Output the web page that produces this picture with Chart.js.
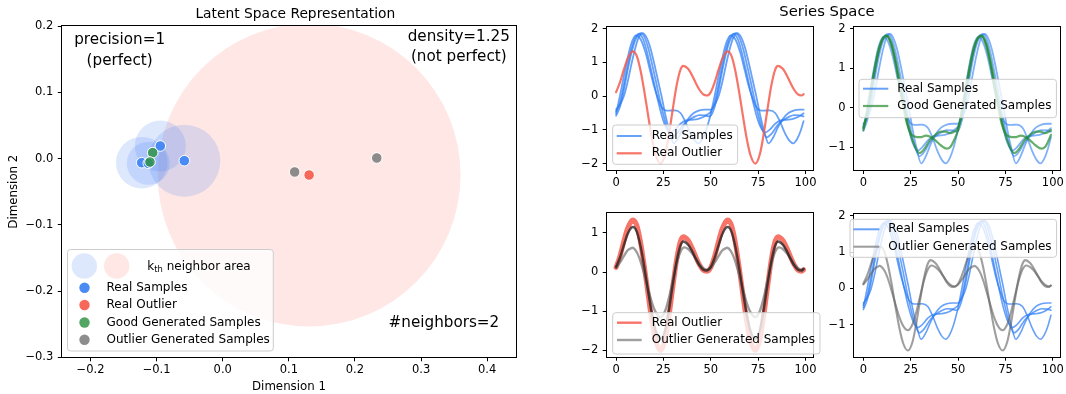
<!DOCTYPE html>
<html>
<head>
<meta charset="utf-8">
<title>Latent Space Representation / Series Space</title>
<script src="https://cdn.jsdelivr.net/npm/chart.js@4.4.1/dist/chart.umd.min.js"></script>
<style>
  html, body { margin: 0; padding: 0; background: #fff; overflow: hidden; }
  #figure { position: relative; width: 1066px; height: 394px; }
  #figure canvas { position: absolute; left: 0; top: 0; }
</style>
</head>
<body>
<div id="figure">
  <canvas id="latent" width="1066" height="394"></canvas>
  <canvas id="realVsOutlier" width="1066" height="394"></canvas>
  <canvas id="realVsGood" width="1066" height="394"></canvas>
  <canvas id="outlierVsGenerated" width="1066" height="394"></canvas>
  <canvas id="realVsOutlierGenerated" width="1066" height="394"></canvas>
</div>
<script>
// ---------------- metrics shown as annotations ----------------
const precisionValue = 1;
const densityValue = 1.25;
const kNeighbors = 2;

// ---------------- latent space points ----------------
const realSamplesX = [-0.0944, -0.0581, -0.1225, -0.1126];
const realSamplesY = [0.0189, -0.0033, -0.0063, -0.0072];
const realNeighborRadius = [0.0386, 0.0545, 0.039, 0.0325];
const realOutlierX = [0.1307];
const realOutlierY = [-0.0249];
const realOutlierNeighborRadius = [0.229];
const goodGeneratedX = [-0.1059, -0.1100];
const goodGeneratedY = [0.0088, -0.0053];
const outlierGeneratedX = [0.1088, 0.2330];
const outlierGeneratedY = [-0.0203, 0.0008];

const latentXTicks = [-0.2, -0.1, 0.0, 0.1, 0.2, 0.3, 0.4];
const latentYTicks = [-0.3, -0.2, -0.1, 0.0, 0.1, 0.2];
const latentLegendLabels = ['Real Samples', 'Real Outlier', 'Good Generated Samples', 'Outlier Generated Samples'];

// ---------------- series space ----------------
const seriesXTicks = [0, 25, 50, 75, 100];
const seriesYTicksTopLeft = [-2, -1, 0, 1, 2];
const seriesYTicksTopRight = [-1, 0, 1, 2];
const seriesYTicksBottomLeft = [-2, -1, 0, 1];
const seriesYTicksBottomRight = [-1, 0, 1, 2];

// real samples, [time step, value]
const realSample1 = [[0,-0.52],[2,0.0],[4,0.57],[6,1.1],[8,1.55],[10.5,1.8],[13,1.68],[15.5,1.3],[18,0.75],[20,0.3],[22,-0.05],[24,-0.32],[26,-0.42],[28,-0.43],[31,-0.42],[34,-0.5],[36.5,-0.75],[39,-1.08],[41.5,-1.32],[43.5,-1.4],[45.5,-1.28],[47.5,-1.02],[49,-0.74],
  [50,-0.52],[52,0.0],[54,0.57],[56,1.1],[58,1.55],[60.5,1.8],[63,1.68],[65.5,1.3],[68,0.75],[70,0.3],[72,-0.05],[74,-0.32],[76,-0.42],[78,-0.43],[81,-0.42],[84,-0.5],[86.5,-0.75],[89,-1.08],[91.5,-1.32],[93.5,-1.4],[95.5,-1.28],[97.5,-1.02],[99,-0.74]];
const realSample2 = [[0,-0.46],[2,-0.2],[4,0.3],[6,0.88],[8,1.38],[10,1.73],[12,1.85],[14,1.72],[16,1.38],[18,0.9],[20,0.4],[22,-0.1],[24,-0.55],[26,-0.88],[28.5,-1.08],[31,-1.0],[34,-0.82],[37,-0.72],[40,-0.7],[43,-0.68],[46,-0.62],[48,-0.55],
  [50,-0.46],[52,-0.2],[54,0.3],[56,0.88],[58,1.38],[60,1.73],[62,1.85],[64,1.72],[66,1.38],[68,0.9],[70,0.4],[72,-0.1],[74,-0.55],[76,-0.88],[78.5,-1.08],[81,-1.0],[84,-0.82],[87,-0.72],[90,-0.7],[93,-0.68],[96,-0.62],[98,-0.55],[99,-0.51]];
const realSample3 = [[0,-0.58],[2,-0.32],[4,0.16],[6,0.74],[8,1.26],[10,1.64],[13,1.87],[15,1.75],[17,1.42],[19,0.95],[21,0.45],[23,-0.08],[25,-0.55],[27,-0.95],[29.5,-1.22],[32,-1.12],[35,-0.88],[38,-0.72],[41,-0.62],[44,-0.56],[47,-0.57],[49,-0.6],
  [50,-0.58],[52,-0.32],[54,0.16],[56,0.74],[58,1.26],[60,1.64],[63,1.87],[65,1.75],[67,1.42],[69,0.95],[71,0.45],[73,-0.08],[75,-0.55],[77,-0.95],[79.5,-1.22],[82,-1.12],[85,-0.88],[88,-0.72],[91,-0.62],[94,-0.56],[97,-0.57],[99,-0.6]];
const realSample4 = [[0,-0.4],[2,-0.26],[4,-0.02],[6,0.4],[8,0.92],[10,1.4],[12,1.75],[14,1.87],[16,1.75],[18,1.45],[20,1.0],[22,0.5],[24,0.0],[26,-0.55],[28,-1.0],[30.5,-1.4],[33,-1.22],[35.5,-0.92],[38,-0.68],[41,-0.5],[44,-0.42],[47,-0.4],[49,-0.4],
  [50,-0.4],[52,-0.26],[54,-0.02],[56,0.4],[58,0.92],[60,1.4],[62,1.75],[64,1.87],[66,1.75],[68,1.45],[70,1.0],[72,0.5],[74,0.0],[76,-0.55],[78,-1.0],[80.5,-1.4],[83,-1.22],[85.5,-0.92],[88,-0.68],[91,-0.5],[94,-0.42],[97,-0.4],[99,-0.4]];

// real outlier
const realOutlierSeries = [[0,0.12],[2,0.4],[4,0.77],[6,1.1],[8,1.3],[9,1.33],[11,1.18],[13,0.74],[15,0.11],[17,-0.6],[19,-1.27],[21,-1.76],[23.5,-2.0],[26,-1.7],[28,-1.1],[30,-0.36],[32,0.33],[34,0.79],[35.5,0.9],[38,0.81],[40,0.63],[42,0.4],[44,0.19],[46,0.05],[48,0.02],
  [50,0.12],[52,0.4],[54,0.77],[56,1.1],[58,1.3],[59,1.33],[61,1.18],[63,0.74],[65,0.11],[67,-0.6],[69,-1.27],[71,-1.76],[73.5,-2.0],[76,-1.7],[78,-1.1],[80,-0.36],[82,0.33],[84,0.79],[85.5,0.9],[88,0.81],[90,0.63],[92,0.4],[94,0.19],[96,0.05],[98,0.02],[99,0.06]];

// good generated samples
const goodGenerated1 = [[0,-0.5],[2,-0.15],[4,0.4],[6,0.95],[8,1.42],[10,1.72],[12.5,1.83],[15,1.62],[17,1.22],[19,0.72],[21,0.2],[23,-0.3],[25,-0.68],[27,-0.95],[29.5,-1.14],[32,-1.05],[35,-0.82],[38,-0.68],[41,-0.6],[43.5,-0.6],[46,-0.64],[48,-0.6],
  [50,-0.5],[52,-0.15],[54,0.4],[56,0.95],[58,1.42],[60,1.72],[62.5,1.83],[65,1.62],[67,1.22],[69,0.72],[71,0.2],[73,-0.3],[75,-0.68],[77,-0.95],[79.5,-1.14],[82,-1.05],[85,-0.82],[88,-0.68],[91,-0.6],[93.5,-0.6],[96,-0.64],[98,-0.6],[99,-0.56]];
const goodGenerated2 = [[0,-0.56],[2,-0.1],[4,0.47],[6,1.02],[8,1.47],[10,1.74],[12,1.82],[14.5,1.62],[17,1.12],[19,0.58],[21,0.05],[23,-0.4],[25,-0.65],[27,-0.72],[30,-0.74],[33,-0.7],[35,-0.72],[38,-0.82],[41,-0.95],[44,-1.03],[46,-0.98],[48,-0.8],
  [50,-0.56],[52,-0.1],[54,0.47],[56,1.02],[58,1.47],[60,1.74],[62,1.82],[64.5,1.62],[67,1.12],[69,0.58],[71,0.05],[73,-0.4],[75,-0.65],[77,-0.72],[80,-0.74],[83,-0.7],[85,-0.72],[88,-0.82],[91,-0.95],[94,-1.03],[96,-0.98],[98,-0.8],[99,-0.68]];

// outlier generated samples
const outlierGenerated1 = [[0,0.13],[2,0.36],[4,0.67],[6,0.96],[8,1.13],[9,1.15],[11,1.02],[13,0.64],[15,0.1],[17,-0.52],[19,-1.09],[21,-1.51],[23.5,-1.71],[26,-1.46],[28,-0.94],[30,-0.3],[32,0.29],[34,0.68],[35.5,0.78],[38,0.7],[40,0.55],[42,0.35],[44,0.17],[46,0.06],[48,0.04],
  [50,0.13],[52,0.36],[54,0.67],[56,0.96],[58,1.13],[59,1.15],[61,1.02],[63,0.64],[65,0.1],[67,-0.52],[69,-1.09],[71,-1.51],[73.5,-1.71],[76,-1.46],[78,-0.94],[80,-0.3],[82,0.29],[84,0.68],[85.5,0.78],[88,0.7],[90,0.55],[92,0.35],[94,0.17],[96,0.06],[98,0.04],[99,0.08]];
const outlierGenerated2 = [[0,0.11],[2,0.24],[4,0.4],[6,0.55],[8,0.61],[8.5,0.62],[11,0.5],[13,0.26],[15,-0.08],[17,-0.45],[19,-0.79],[21,-1.03],[23.5,-1.15],[26,-0.98],[28,-0.64],[30,-0.2],[32,0.22],[34,0.52],[36,0.63],[38,0.59],[40,0.49],[42,0.35],[44,0.2],[46,0.1],[48,0.06],
  [50,0.11],[52,0.24],[54,0.4],[56,0.55],[58,0.61],[58.5,0.62],[61,0.5],[63,0.26],[65,-0.08],[67,-0.45],[69,-0.79],[71,-1.03],[73.5,-1.15],[76,-0.98],[78,-0.64],[80,-0.2],[82,0.22],[84,0.52],[86,0.63],[88,0.59],[90,0.49],[92,0.35],[94,0.2],[96,0.1],[98,0.06],[99,0.08]];

// ---------------- shared styling ----------------
const W = 1066, H = 394, AXIS_W = 60, AXIS_H = 30;
const FONT = '"DejaVu Sans", "Liberation Sans", sans-serif';
const TICK_SIZE = 11.5, LEGEND_SIZE = 12;
Chart.defaults.font.family = FONT;
Chart.defaults.color = '#000';

const COLORS = {
  realPoint: 'rgb(74,138,245)',
  outlierPoint: 'rgb(247,104,91)',
  goodPoint: 'rgba(45,145,65,0.82)',
  outlierGenPoint: 'rgba(125,125,125,0.88)',
  realArea: 'rgba(70,130,245,0.18)',
  outlierArea: 'rgba(250,110,95,0.17)',
  realLine: 'rgba(45,125,245,0.72)',
  realLineLight: 'rgba(45,125,245,0.6)',
  outlierLine: 'rgba(245,92,78,0.85)',
  goodLine: 'rgba(35,140,45,0.7)',
  outlierGenDark: 'rgba(30,30,30,0.75)',
  outlierGenLight: 'rgba(105,105,105,0.65)',
  outlierGenLine: 'rgba(100,100,100,0.62)'
};

function fmtTick(v, digits) {
  const a = Math.abs(v) < 1e-9 ? 0 : v;
  return (a < 0 ? '\u2212' : '') + Math.abs(a).toFixed(digits);
}

function pairsToPoints(pairs) { return pairs.map(p => ({ x: p[0], y: p[1] })); }
function xyToPoints(xs, ys) { return xs.map((x, i) => ({ x, y: ys[i] })); }

function roundBox(c, x, y, w, h, r) {
  c.beginPath();
  c.moveTo(x + r, y);
  c.lineTo(x + w - r, y); c.quadraticCurveTo(x + w, y, x + w, y + r);
  c.lineTo(x + w, y + h - r); c.quadraticCurveTo(x + w, y + h, x + w - r, y + h);
  c.lineTo(x + r, y + h); c.quadraticCurveTo(x, y + h, x, y + h - r);
  c.lineTo(x, y + r); c.quadraticCurveTo(x, y, x + r, y);
  c.closePath();
}

function drawFrame(c, a) {
  c.save();
  c.strokeStyle = '#000';
  c.lineWidth = 1;
  const l = Math.round(a.left) - 0.5, t = Math.round(a.top) - 0.5;
  const r = Math.round(a.right) + 0.5, b = Math.round(a.bottom) + 0.5;
  c.strokeRect(l, t, r - l, b - t);
  c.restore();
}

function scaleConfig(min, max, ticks, digits, horizontal) {
  return {
    type: 'linear', min, max,
    afterBuildTicks: s => { s.ticks = ticks.map(v => ({ value: v })); },
    afterFit: s => { if (horizontal) s.height = AXIS_H; else s.width = AXIS_W; },
    ticks: {
      autoSkip: false, maxRotation: 0, color: '#000',
      font: { family: FONT, size: TICK_SIZE },
      padding: horizontal ? 2 : 4.5,
      callback: v => fmtTick(v, digits)
    },
    grid: { display: true, drawOnChartArea: false, drawTicks: true, tickLength: 4, color: '#000', lineWidth: 1 },
    border: { display: false }
  };
}

function paddingFor(area) {
  return { left: area.l - AXIS_W, top: area.t, right: W - area.r, bottom: H - area.b - AXIS_H };
}

// ---------------- latent space chart ----------------
function radiusInPixels(chart, r) {
  const xs = chart.scales.x;
  return Math.abs(xs.getPixelForValue(r) - xs.getPixelForValue(0));
}

const latentArea = { l: 61.8, r: 516.2, t: 26, b: 357.3 };

const latentOverlay = {
  id: 'latentOverlay',
  afterDatasetsDraw(chart) { drawFrame(chart.ctx, chart.chartArea); },
  afterDraw(chart) {
    const c = chart.ctx, a = chart.chartArea;
    c.save();
    c.fillStyle = '#000';
    c.textAlign = 'center';
    c.textBaseline = 'middle';
    c.font = `13.8px ${FONT}`;
    c.fillText('Latent Space Representation', 295.3, 14.3);
    c.font = `11.8px ${FONT}`;
    c.fillText('Dimension 1', (a.left + a.right) / 2, 386.7);
    c.save();
    c.translate(13.5, (a.top + a.bottom) / 2);
    c.rotate(-Math.PI / 2);
    c.fillText('Dimension 2', 0, 0);
    c.restore();

    c.font = `15.2px ${FONT}`;
    c.fillText(`precision=${precisionValue}`, 119.6, 40);
    c.fillText('(perfect)', 119.6, 60.7);
    c.fillText(`density=${densityValue}`, 458.8, 36.7);
    c.fillText('(not perfect)', 458.8, 56.7);
    c.fillText(`#neighbors=${kNeighbors}`, 443.9, 322.7);

    // legend
    roundBox(c, 67.5, 249.5, 205.8, 101.5, 3);
    c.fillStyle = 'rgba(255,255,255,0.8)';
    c.fill();
    c.strokeStyle = '#cccccc';
    c.lineWidth = 1;
    c.stroke();

    c.beginPath(); c.arc(84.3, 266, 12.7, 0, Math.PI * 2);
    c.fillStyle = COLORS.realArea; c.fill();
    c.beginPath(); c.arc(116.7, 266, 12.7, 0, Math.PI * 2);
    c.fillStyle = COLORS.outlierArea; c.fill();

    c.fillStyle = '#000';
    c.textAlign = 'left';
    c.font = `${LEGEND_SIZE}px ${FONT}`;
    let tx = 147.3;
    c.fillText('k', tx, 266.5);
    tx += c.measureText('k').width;
    c.font = `8.4px ${FONT}`;
    c.fillText('th', tx, 270);
    tx += c.measureText('th').width;
    c.font = `${LEGEND_SIZE}px ${FONT}`;
    c.fillText(' neighbor area', tx, 266.5);

    const rowY = [287.8, 305, 322.5, 339.8];
    const rowColors = [COLORS.realPoint, COLORS.outlierPoint, COLORS.goodPoint, COLORS.outlierGenPoint];
    latentLegendLabels.forEach((label, i) => {
      c.beginPath(); c.arc(84.5, rowY[i], 5.2, 0, Math.PI * 2);
      c.fillStyle = rowColors[i]; c.fill();
      c.fillStyle = '#000';
      c.fillText(label, 106.5, rowY[i]);
    });
    c.restore();
  }
};

new Chart(document.getElementById('latent'), {
  type: 'scatter',
  data: {
    datasets: [
      { label: 'Outlier Generated Samples', data: xyToPoints(outlierGeneratedX, outlierGeneratedY), order: 1,
        pointRadius: 5.3, pointBackgroundColor: COLORS.outlierGenPoint, pointBorderColor: '#fff', pointBorderWidth: 1, clip: 0 },
      { label: 'Good Generated Samples', data: xyToPoints(goodGeneratedX, goodGeneratedY), order: 2,
        pointRadius: 5.3, pointBackgroundColor: COLORS.goodPoint, pointBorderColor: '#fff', pointBorderWidth: 1, clip: 0 },
      { label: 'Real Outlier', data: xyToPoints(realOutlierX, realOutlierY), order: 3,
        pointRadius: 5.3, pointBackgroundColor: COLORS.outlierPoint, pointBorderColor: '#fff', pointBorderWidth: 1, clip: 0 },
      { label: 'Real Samples', data: xyToPoints(realSamplesX, realSamplesY), order: 4,
        pointRadius: 5.3, pointBackgroundColor: COLORS.realPoint, pointBorderColor: '#fff', pointBorderWidth: 1, clip: 0 },
      { label: 'real kth neighbor area', data: xyToPoints(realSamplesX, realSamplesY), order: 5,
        pointRadius: ctx => ctx.dataIndex === undefined ? 0 : radiusInPixels(ctx.chart, realNeighborRadius[ctx.dataIndex]),
        pointBackgroundColor: COLORS.realArea, pointBorderWidth: 0, clip: 0 },
      { label: 'outlier kth neighbor area', data: xyToPoints(realOutlierX, realOutlierY), order: 6,
        pointRadius: ctx => ctx.dataIndex === undefined ? 0 : radiusInPixels(ctx.chart, realOutlierNeighborRadius[ctx.dataIndex]),
        pointBackgroundColor: COLORS.outlierArea, pointBorderWidth: 0, clip: 0 }
    ]
  },
  options: {
    responsive: false, animation: false, events: [], devicePixelRatio: 1,
    layout: { padding: paddingFor(latentArea) },
    plugins: { legend: { display: false }, tooltip: { enabled: false } },
    scales: {
      x: scaleConfig(-0.2434, 0.4439, latentXTicks, 1, true),
      y: scaleConfig(-0.3, 0.2, latentYTicks, 1, false)
    }
  },
  plugins: [latentOverlay]
});

// ---------------- series space charts ----------------
function drawLineLegend(c, spec) {
  c.save();
  c.font = `${LEGEND_SIZE}px ${FONT}`;
  const w = Math.max(...spec.items.map(it => c.measureText(it.label).width));
  const right = spec.textX + w + 5;
  roundBox(c, spec.left, spec.top, right - spec.left, spec.bottom - spec.top, 3);
  c.fillStyle = 'rgba(255,255,255,0.8)';
  c.fill();
  c.strokeStyle = '#cccccc';
  c.lineWidth = 1;
  c.stroke();
  spec.items.forEach((it, i) => {
    const y = spec.rows[i];
    c.strokeStyle = it.color;
    c.lineWidth = it.width;
    c.beginPath(); c.moveTo(spec.h0, y); c.lineTo(spec.h1, y); c.stroke();
    c.fillStyle = '#000';
    c.textAlign = 'left';
    c.textBaseline = 'middle';
    c.fillText(it.label, spec.textX, y);
  });
  c.restore();
}

function lineSet(label, pairs, color, width) {
  return { label, data: pairsToPoints(pairs), borderColor: color, borderWidth: width,
           pointRadius: 0, fill: false, clip: 0, cubicInterpolationMode: 'monotone',
           borderCapStyle: 'round', borderJoinStyle: 'round' };
}

function seriesChart(id, area, yMin, yMax, yTicks, sets, legend, extraDraw) {
  // later entries are drawn on top
  sets.forEach((s, i) => { s.order = sets.length - i; });
  new Chart(document.getElementById(id), {
    type: 'line',
    data: { datasets: sets },
    options: {
      responsive: false, animation: false, events: [], devicePixelRatio: 1,
      layout: { padding: paddingFor(area) },
      plugins: { legend: { display: false }, tooltip: { enabled: false } },
      scales: {
        x: scaleConfig(-4.95, 103.95, seriesXTicks, 0, true),
        y: scaleConfig(yMin, yMax, yTicks, 0, false)
      }
    },
    plugins: [{
      id: id + 'Overlay',
      afterDatasetsDraw(chart) { drawFrame(chart.ctx, chart.chartArea); },
      afterDraw(chart) {
        drawLineLegend(chart.ctx, legend);
        if (extraDraw) extraDraw(chart.ctx);
      }
    }]
  });
}

const realLabel = 'Real Samples', outlierLabel = 'Real Outlier';
const goodLabel = 'Good Generated Samples', outlierGenLabel = 'Outlier Generated Samples';
const realSamples = [realSample1, realSample2, realSample3, realSample4];

// top left: real samples vs the real outlier
seriesChart('realVsOutlier', { l: 606.7, r: 813, t: 26.7, b: 170 }, -2.19, 2.06, seriesYTicksTopLeft,
  [...realSamples.map(s => lineSet(realLabel, s, COLORS.realLine, 1.8)),
   lineSet(outlierLabel, realOutlierSeries, COLORS.outlierLine, 2.2)],
  { left: 612.7, top: 125, bottom: 164.3, rows: [136, 153.3], h0: 616.7, h1: 641.7, textX: 651.7,
    items: [{ label: realLabel, color: COLORS.realLine, width: 2 }, { label: outlierLabel, color: COLORS.outlierLine, width: 2.2 }] },
  c => {
    c.save();
    c.fillStyle = '#000';
    c.textAlign = 'center';
    c.textBaseline = 'middle';
    c.font = `14.8px ${FONT}`;
    c.fillText('Series Space', 827, 11.7);
    c.restore();
  });

// top right: real samples vs good generated samples
seriesChart('realVsGood', { l: 854, r: 1060.5, t: 27.3, b: 170 }, -1.57, 2.04, seriesYTicksTopRight,
  [...realSamples.map(s => lineSet(realLabel, s, COLORS.realLineLight, 1.8)),
   lineSet(goodLabel, goodGenerated1, COLORS.goodLine, 2.2),
   lineSet(goodLabel, goodGenerated2, COLORS.goodLine, 2.2)],
  { left: 859, top: 79.3, bottom: 117.7, rows: [88.7, 106], h0: 863, h1: 888.3, textX: 897.3,
    items: [{ label: realLabel, color: COLORS.realLine, width: 2 }, { label: goodLabel, color: COLORS.goodLine, width: 2.2 }] });

// bottom left: real outlier vs outlier generated samples
seriesChart('outlierVsGenerated', { l: 606.7, r: 813, t: 213.3, b: 356.7 }, -2.16, 1.50, seriesYTicksBottomLeft,
  [lineSet(outlierLabel, realOutlierSeries, COLORS.outlierLine, 5),
   lineSet(outlierGenLabel, outlierGenerated2, COLORS.outlierGenLight, 2.4),
   lineSet(outlierGenLabel, outlierGenerated1, COLORS.outlierGenDark, 2.4)],
  { left: 612.7, top: 312.7, bottom: 354, rows: [322.7, 340], h0: 617, h1: 641.7, textX: 651.7,
    items: [{ label: outlierLabel, color: COLORS.outlierLine, width: 2.4 }, { label: outlierGenLabel, color: COLORS.outlierGenLine, width: 2.4 }] });

// bottom right: real samples vs outlier generated samples
seriesChart('realVsOutlierGenerated', { l: 854, r: 1060.5, t: 214, b: 356.7 }, -1.88, 2.05, seriesYTicksBottomRight,
  [...realSamples.map(s => lineSet(realLabel, s, COLORS.realLine, 1.6)),
   lineSet(outlierGenLabel, outlierGenerated1, COLORS.outlierGenLine, 2.1),
   lineSet(outlierGenLabel, outlierGenerated2, COLORS.outlierGenLine, 2.1)],
  { left: 850, top: 219.3, bottom: 257.3, rows: [229.3, 246.7], h0: 853.5, h1: 879.3, textX: 888.3,
    items: [{ label: realLabel, color: COLORS.realLine, width: 2 }, { label: outlierGenLabel, color: COLORS.outlierGenLine, width: 2.1 }] });
</script>
</body>
</html>
